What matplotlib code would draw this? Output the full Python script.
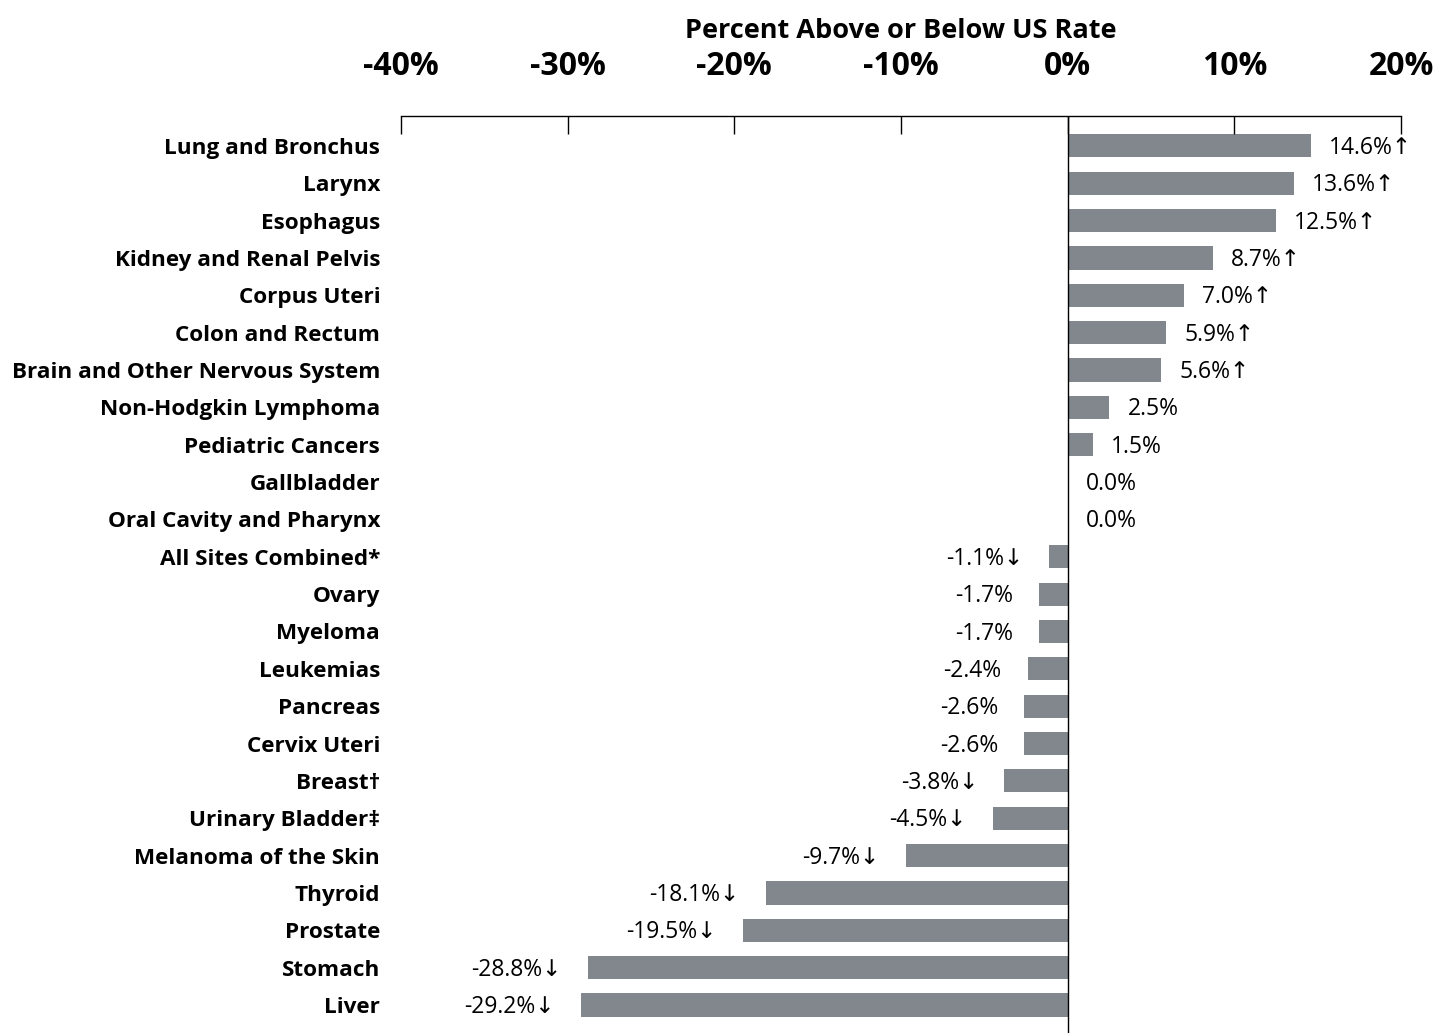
import matplotlib.pyplot as plt

sites = ['Lung and Bronchus', 'Larynx', 'Esophagus', 'Kidney and Renal Pelvis',
         'Corpus Uteri', 'Colon and Rectum', 'Brain and Other Nervous System',
         'Non-Hodgkin Lymphoma', 'Pediatric Cancers', 'Gallbladder',
         'Oral Cavity and Pharynx', 'All Sites Combined*', 'Ovary', 'Myeloma',
         'Leukemias', 'Pancreas', 'Cervix Uteri', 'Breast\u2020',
         'Urinary Bladder\u2021', 'Melanoma of the Skin', 'Thyroid', 'Prostate',
         'Stomach', 'Liver']
pct_diff = [14.6, 13.6, 12.5, 8.7, 7.0, 5.9, 5.6, 2.5, 1.5, 0.0, 0.0, -1.1,
            -1.7, -1.7, -2.4, -2.6, -2.6, -3.8, -4.5, -9.7, -18.1, -19.5,
            -28.8, -29.2]
significant = [True, True, True, True, True, True, True, False, False, False,
               False, True, False, False, False, False, False, True, True,
               True, True, True, True, True]
x_ticks = [-40, -30, -20, -10, 0, 10, 20]

FONTS = ['Open Sans', 'DejaVu Sans']
plt.rcParams['font.family'] = FONTS

fig = plt.figure(figsize=(14.55, 10.33), dpi=100)
ax = fig.add_axes([401 / 1455, 0, 1000 / 1455, 1 - 116 / 1033])

rows = list(range(len(sites)))
ax.barh(rows, pct_diff, height=0.62, color='#81878d')

# value labels, arrow marks a statistically significant difference
for i, (v, sig) in enumerate(zip(pct_diff, significant)):
    if v < 0:
        txt = f'{v:.1f}%' + ('\u2193' if sig else '')
        ax.annotate(txt, (v, i), xytext=(-19, -1.5), textcoords='offset points',
                    ha='right', va='center', fontsize=16.5, family=FONTS)
    else:
        txt = f'{v:.1f}%' + ('\u2191' if sig else '')
        ax.annotate(txt, (v, i), xytext=(13, -1.5), textcoords='offset points',
                    ha='left', va='center', fontsize=16.5, family=FONTS)

ax.set_xlim(-40, 20)
ax.set_ylim(23.75, -0.8)
ax.axvline(0, color='black', lw=1)

ax.xaxis.tick_top()
ax.set_xticks(x_ticks)
ax.set_xticklabels([f'{t}%' for t in x_ticks], fontsize=23, fontweight='bold')
ax.tick_params(axis='x', direction='in', length=13, width=1, pad=24)
ax.set_yticks(rows)
ax.set_yticklabels(sites, fontsize=16.2, fontweight='bold')
ax.tick_params(axis='y', length=0, pad=15)

for side in ['left', 'right', 'bottom']:
    ax.spines[side].set_visible(False)
ax.spines['top'].set_linewidth(1)

ax.set_title('Percent Above or Below US Rate', fontsize=19.5, fontweight='bold', pad=56)

fig.savefig('out.png', dpi=100)
